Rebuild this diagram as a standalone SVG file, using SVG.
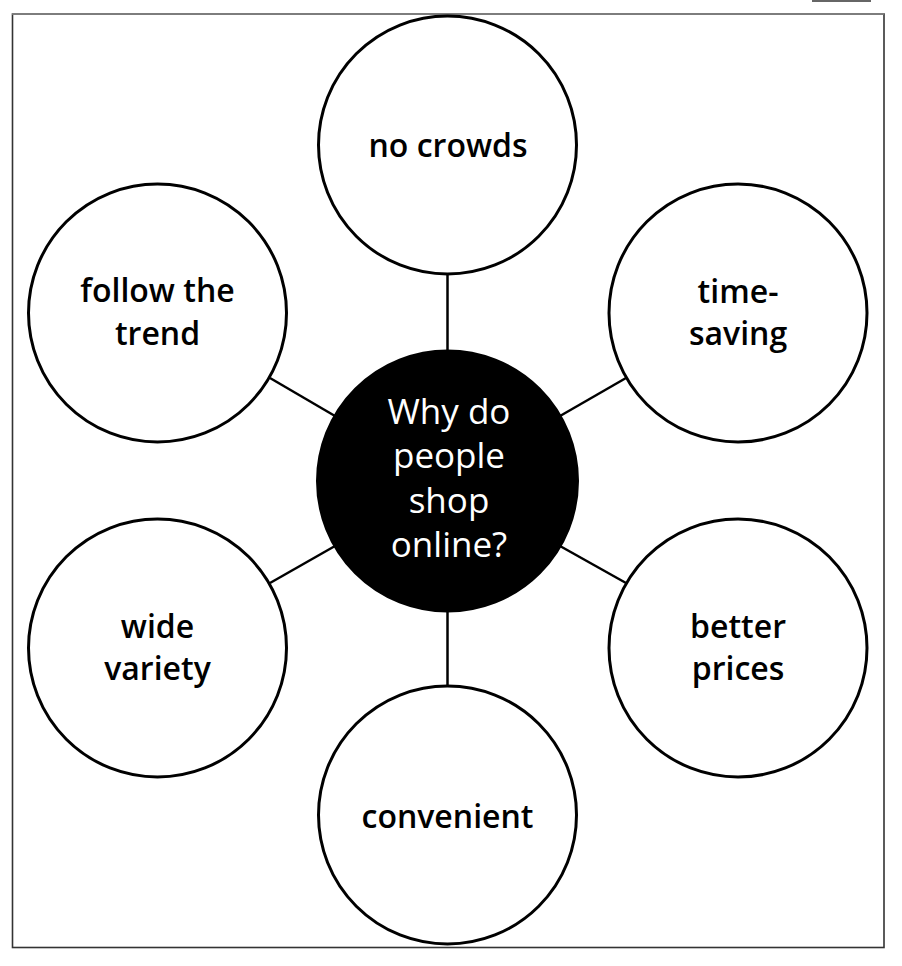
<svg xmlns="http://www.w3.org/2000/svg" width="902" height="966" viewBox="0 0 902 966">
<style>
.node{fill:#fff;stroke:#000;stroke-width:3}
.hub{fill:#000;stroke:#000;stroke-width:3}
.lbl{font-family:"Open Sans","Liberation Sans",sans-serif;font-size:32px;font-weight:600;fill:#000;text-anchor:middle}
.hubtxt{font-family:"Open Sans","Liberation Sans",sans-serif;font-size:35px;font-weight:400;fill:#fff;text-anchor:middle}
.conn line{stroke:#000;stroke-width:2.5}
</style>
<rect width="902" height="966" fill="#fff"/>
<line x1="812" y1="1" x2="871" y2="1" stroke="#333" stroke-width="1.5"/>
<rect x="12.5" y="14" width="871.5" height="933.5" fill="none" stroke="#333" stroke-width="1.6"/>
<line x1="12" y1="14" x2="884" y2="14" stroke="#888" stroke-width="1.6"/>
<g id="connectors" class="conn">
<line x1="447.5" y1="351" x2="447.5" y2="274"/>
<line x1="560" y1="416" x2="626" y2="378"/>
<line x1="560" y1="546" x2="626" y2="583"/>
<line x1="447.5" y1="611" x2="447.5" y2="686"/>
<line x1="335" y1="546" x2="270" y2="583"/>
<line x1="335" y1="416" x2="270" y2="378"/>
</g>
<g id="hub">
<circle class="hub" cx="447.5" cy="481" r="130"/>
<text class="hubtxt" x="449" y="424">Why do</text>
<text class="hubtxt" x="449" y="468">people</text>
<text class="hubtxt" x="449" y="513">shop</text>
<text class="hubtxt" x="449" y="557">online?</text>
</g>
<g id="no-crowds">
<circle class="node" cx="447.5" cy="145" r="129"/>
<text class="lbl" x="448" y="157">no crowds</text>
</g>
<g id="time-saving">
<circle class="node" cx="738" cy="313" r="129"/>
<text class="lbl" x="738" y="303">time-</text>
<text class="lbl" x="738" y="345">saving</text>
</g>
<g id="better-prices">
<circle class="node" cx="738" cy="648" r="129"/>
<text class="lbl" x="738" y="638">better</text>
<text class="lbl" x="738" y="680">prices</text>
</g>
<g id="convenient">
<circle class="node" cx="447.5" cy="815" r="129"/>
<text class="lbl" x="447.5" y="828">convenient</text>
</g>
<g id="wide-variety">
<circle class="node" cx="157.5" cy="648" r="129"/>
<text class="lbl" x="157.5" y="638">wide</text>
<text class="lbl" x="157.5" y="680">variety</text>
</g>
<g id="follow-the-trend">
<circle class="node" cx="157.5" cy="313" r="129"/>
<text class="lbl" x="157.5" y="302">follow the</text>
<text class="lbl" x="157.5" y="345">trend</text>
</g>
</svg>
